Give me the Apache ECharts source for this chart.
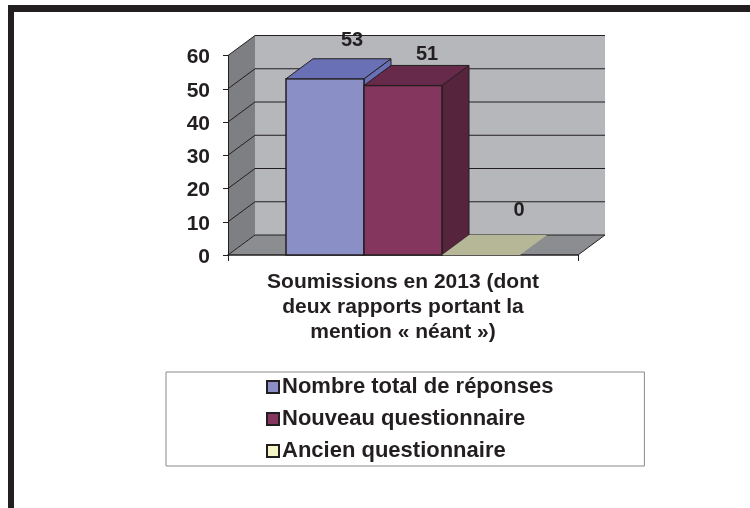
<!DOCTYPE html>
<html>
<head>
<meta charset="utf-8">
<title>Soumissions en 2013</title>
<style>
html, body { margin: 0; padding: 0; background: #fff; }
#chart { width: 750px; height: 508px; }
/* cadre noir du document */
#frameTop { position: absolute; left: 8px; top: 5px; width: 742px; height: 7px; background: #231f20; }
#frameLeft { position: absolute; left: 8px; top: 5px; width: 6px; height: 503px; background: #231f20; }
</style>
<script src="https://cdn.jsdelivr.net/npm/echarts@6/dist/echarts.min.js"></script>
</head>
<body>
<div id="chart"></div>
<div id="frameTop"></div>
<div id="frameLeft"></div>
<script>
var categories = ['Soumissions en 2013 (dont\ndeux rapports portant la\nmention « néant »)'];
var seriesNames = ['Nombre total de réponses', 'Nouveau questionnaire', 'Ancien questionnaire'];
var totalValues = [53];
var nouveauValues = [51];
var ancienValues = [0];
var yTicks = [0, 10, 20, 30, 40, 50, 60];

var INK = '#231f20';
var DEPTH_X = 27, DEPTH_Y = -20;
var BAR_RATIO = 78 / 350;

var chart = echarts.init(document.getElementById('chart'));

function poly(points, fill, stroke, width) {
    return {
        type: 'polygon',
        shape: { points: points },
        style: { fill: fill, stroke: stroke || null, lineWidth: width || 0 }
    };
}

// murs et plancher de la vue 3D, une ligne de fond par graduation
function renderWalls(params, api) {
    var p = api.coord([0, api.value(1)]);
    var band = api.size([1, 0])[0];
    var x0 = p[0] - band / 2, x1 = p[0] + band / 2;
    var y0 = api.coord([0, yTicks[0]])[1];
    var yTop = api.coord([0, yTicks[yTicks.length - 1]])[1];
    var children = [];
    if (params.dataIndex === 0) {
        children.push(poly([[x0 + DEPTH_X, yTop + DEPTH_Y], [x1 + DEPTH_X, yTop + DEPTH_Y], [x1 + DEPTH_X, y0 + DEPTH_Y], [x0 + DEPTH_X, y0 + DEPTH_Y]], '#b6b7bb'));
        children.push(poly([[x0, yTop], [x0 + DEPTH_X, yTop + DEPTH_Y], [x0 + DEPTH_X, y0 + DEPTH_Y], [x0, y0]], '#7e7f83'));
        children.push(poly([[x0, y0], [x0 + DEPTH_X, y0 + DEPTH_Y], [x1 + DEPTH_X, y0 + DEPTH_Y], [x1, y0]], '#8c8d90'));
    }
    var y = p[1];
    var lineStyle = { stroke: INK, lineWidth: 1, fill: null };
    children.push({
        type: 'polyline',
        shape: { points: [[x0, y], [x0 + DEPTH_X, y + DEPTH_Y], [x1 + DEPTH_X, y + DEPTH_Y]] },
        style: lineStyle
    });
    if (params.dataIndex === 0) {
        children.push({
            type: 'line',
            shape: { x1: x1, y1: y0, x2: x1 + DEPTH_X, y2: y0 + DEPTH_Y },
            style: lineStyle
        });
    }
    return { type: 'group', children: children };
}

function barRenderer(index, colors, labelDx, labelDy) {
    return function (params, api) {
        var base = api.coord([api.value(0), 0]);
        var top = api.coord([api.value(0), api.value(1)]);
        var band = api.size([1, 0])[0];
        var w = band * BAR_RATIO;
        var x0 = base[0] - w * 1.5 + index * w, x1 = x0 + w;
        var y0 = base[1], y1 = top[1];
        var children = [];
        if (y0 > y1) {
            children.push(poly([[x1, y1], [x1 + DEPTH_X, y1 + DEPTH_Y], [x1 + DEPTH_X, y0 + DEPTH_Y], [x1, y0]], colors.side, INK, 1));
            children.push(poly([[x0, y1], [x1, y1], [x1, y0], [x0, y0]], colors.front, INK, 1.5));
        }
        children.push(poly([[x0, y1], [x0 + DEPTH_X, y1 + DEPTH_Y], [x1 + DEPTH_X, y1 + DEPTH_Y], [x1, y1]], colors.top, y0 > y1 ? INK : null, 1));
        children.push({
            type: 'text',
            style: {
                x: (x0 + x1) / 2 + labelDx,
                y: y1 + labelDy,
                text: String(api.value(1)),
                fill: INK,
                font: 'bold 20px "Liberation Sans", Arial, sans-serif',
                align: 'center',
                verticalAlign: 'middle'
            }
        });
        return { type: 'group', children: children };
    };
}

function barSeries(name, values, index, colors, labelDx, labelDy) {
    return {
        name: name,
        type: 'custom',
        z: 3,
        silent: true,
        itemStyle: { color: colors.legend, borderColor: INK, borderWidth: 2 },
        data: values.map(function (v, i) { return [i, v]; }),
        encode: { x: 0, y: 1 },
        renderItem: barRenderer(index, colors, labelDx, labelDy)
    };
}

var option = {
    animation: false,
    backgroundColor: '#fff',
    textStyle: { fontFamily: '"Liberation Sans", Arial, sans-serif' },
    grid: { left: 228, right: 172, top: 55.5, bottom: 253 },
    legend: {
        left: 166,
        top: 372,
        orient: 'vertical',
        align: 'left',
        padding: [4, 91, 4, 100],
        itemWidth: 12,
        itemHeight: 12,
        itemGap: 10,
        borderColor: '#8a8a8c',
        borderWidth: 1,
        data: seriesNames,
        selectedMode: false,
        icon: 'rect',
        textStyle: { color: INK, fontWeight: 'bold', fontSize: 22, padding: [0, 0, 0, -2] }
    },
    xAxis: {
        type: 'category',
        data: categories,
        z: 2,
        axisLine: { lineStyle: { color: INK, width: 1.5 } },
        axisTick: { show: true, length: 6, lineStyle: { color: INK } },
        axisLabel: {
            color: INK,
            fontWeight: 'bold',
            fontSize: 21,
            lineHeight: 25,
            margin: 15,
            align: 'center'
        }
    },
    yAxis: {
        type: 'value',
        min: 0,
        max: 60,
        interval: 10,
        z: 2,
        axisLine: { show: true, lineStyle: { color: INK } },
        axisTick: { show: true, length: 5, lineStyle: { color: INK } },
        axisLabel: {
            margin: 18,
            formatter: '{t|{value}}',
            rich: { t: { color: INK, fontWeight: 'bold', fontSize: 21, padding: [4, 0, 0, 0] } }
        },
        splitLine: { show: false }
    },
    series: [
        {
            type: 'custom',
            z: 1,
            silent: true,
            data: yTicks.map(function (t) { return [0, t]; }),
            encode: { x: 0, y: 1 },
            renderItem: renderWalls
        },
        barSeries(seriesNames[0], totalValues, 0, { front: '#8a8fc6', top: '#6a70b6', side: '#6a70b6', legend: '#8a8fc6' }, 27, -38),
        barSeries(seriesNames[1], nouveauValues, 1, { front: '#84365e', top: '#672a4a', side: '#57243e', legend: '#84365e' }, 24, -31),
        barSeries(seriesNames[2], ancienValues, 2, { front: '#f5f5c8', top: '#b5b797', side: '#b5b797', legend: '#f5f5c8' }, 38, -45)
    ]
};

chart.setOption(option);
</script>
</body>
</html>
